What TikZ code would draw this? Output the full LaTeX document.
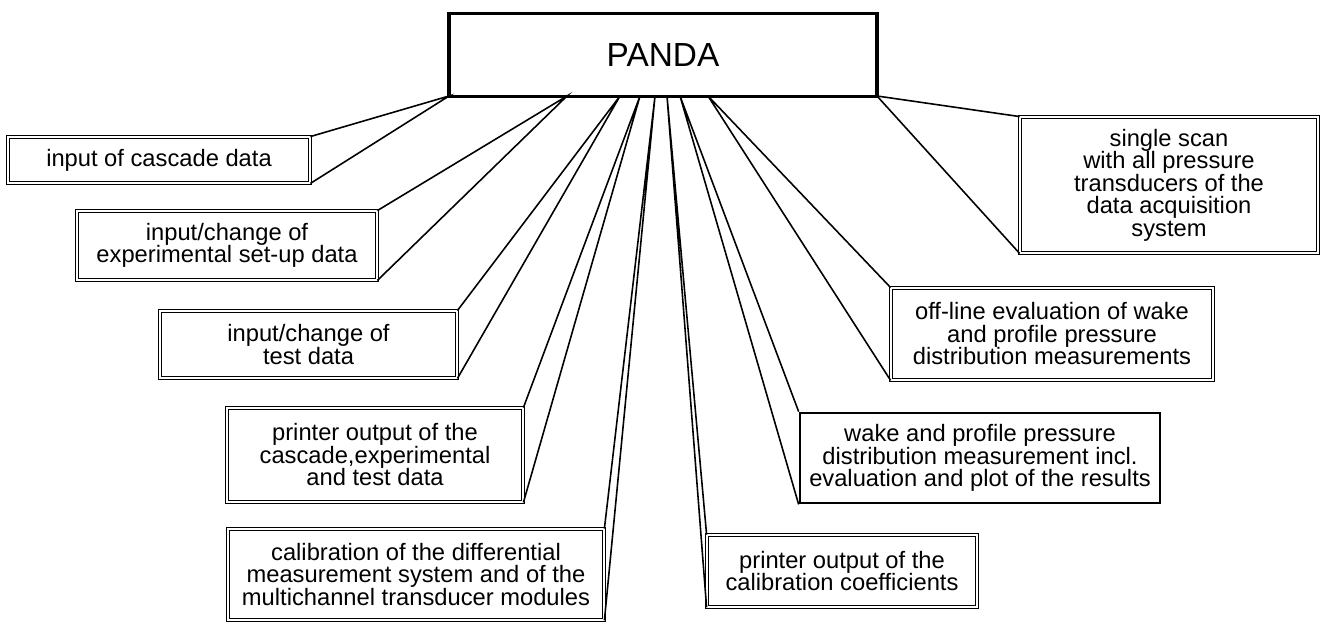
\documentclass[tikz,border=0pt]{standalone}
\usepackage{fontspec}
\setmainfont{Liberation Sans}
\begin{document}
\begin{tikzpicture}[x=0.02cm,y=-0.02cm,
    task/.style={draw,double,line width=0.5pt,double distance=1.4pt,inner sep=0pt,align=center,font=\fontsize{13.5}{12.8}\selectfont},
    mainbox/.style={draw,line width=2pt,inner sep=0pt,font=\fontsize{19}{22}\selectfont},
    link/.style={line width=0.9pt}]
      \useasboundingbox (0,0) rectangle (1324,624);
      \node[mainbox,minimum width=8.56cm,minimum height=1.66cm] (panda) at (663,55) {PANDA};
      % boxes on the left
      \node[task,minimum width=6.04cm,minimum height=0.92cm] (cascade) at (159,160) {input of cascade data};
      \node[task,minimum width=6cm,minimum height=1.38cm] (setup) at (227,245.5) {input/change of\\experimental set-up data};
      \node[task,minimum width=5.94cm,minimum height=1.34cm] (testdata) at (308.5,344.5) {input/change of\\test data};
      \node[task,minimum width=5.92cm,minimum height=1.88cm] (printdata) at (375,455) {printer output of the\\cascade,experimental\\and test data};
      \node[task,minimum width=7.52cm,minimum height=1.82cm] (calib) at (416,574.5) {calibration of the differential\\measurement system and of the\\multichannel transducer modules};
      % boxes on the right
      \node[task,minimum width=5.4cm,minimum height=1.44cm] (printcoef) at (842,571) {printer output of the\\calibration coefficients};
      \node[task,double=none,draw,line width=1.6pt,minimum width=7.2cm,minimum height=1.8cm] (wake) at (980,458) {wake and profile pressure\\distribution measurement incl.\\evaluation and plot of the results};
      \node[task,minimum width=6.44cm,minimum height=1.84cm] (offline) at (1052,334) {off-line evaluation of wake\\and profile pressure\\distribution measurements};
      \node[task,minimum width=5.96cm,minimum height=2.72cm] (scan) at (1169,185) {single scan\\with all pressure\\transducers of the\\data acquisition\\system};
      % points on the bottom of PANDA
      \coordinate (p1) at (449,96);
      \coordinate (p2) at (567,96);
      \coordinate (p3) at (620,96);
      \coordinate (p4) at (640,96);
      \coordinate (p5) at (655,96);
      \coordinate (p6) at (667,96);
      \coordinate (p7) at (680,96);
      \coordinate (p8) at (708,96);
      \coordinate (p9) at (877,96);
      \draw[link] (cascade.north east) -- (p1) -- (cascade.south east);
      \draw[link] (setup.north east) -- (p2) -- (setup.south east);
      \draw[link] (testdata.north east) -- (p3) -- (testdata.south east);
      \draw[link] (printdata.north east) -- (p4) -- (printdata.south east);
      \draw[link] (calib.north east) -- (p5) -- (calib.south east);
      \draw[link] (printcoef.north west) -- (p6) -- (printcoef.south west);
      \draw[link] (wake.north west) -- (p7) -- (wake.south west);
      \draw[link] (offline.north west) -- (p8) -- (offline.south west);
      \draw[link] (scan.north west) -- (p9) -- (scan.south west);
\end{tikzpicture}
\end{document}
